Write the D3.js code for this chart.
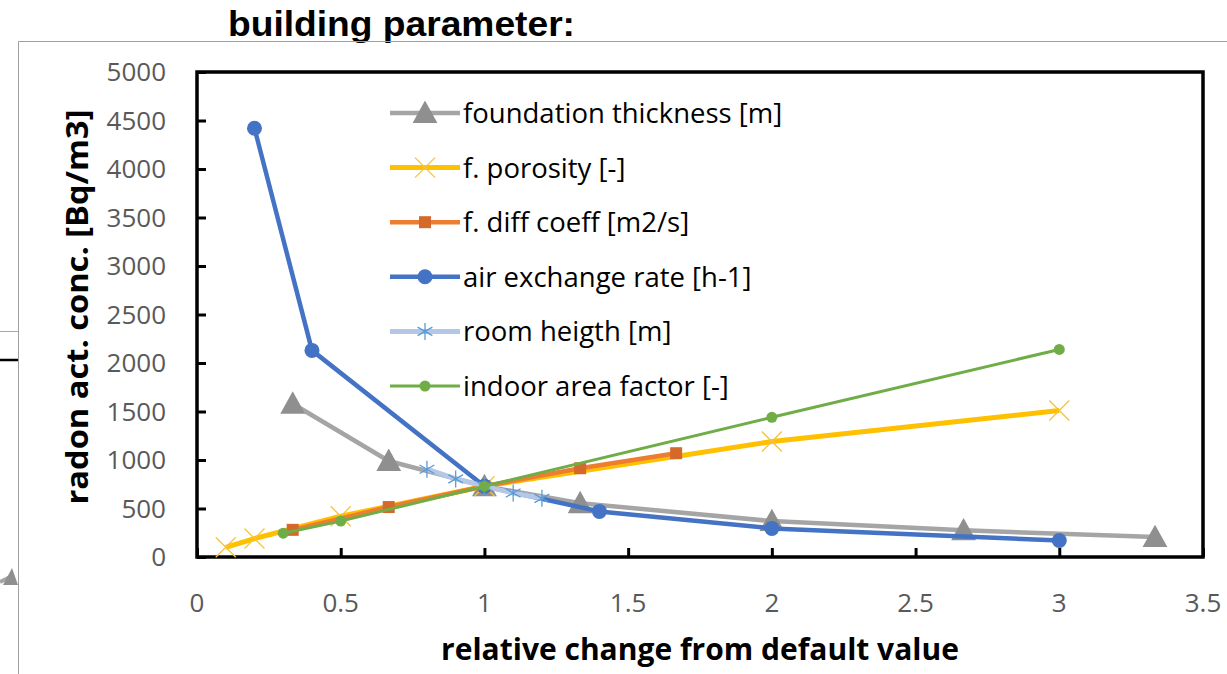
<!DOCTYPE html>
<html>
<head>
<meta charset="utf-8">
<script src="https://cdn.jsdelivr.net/npm/d3@7"></script>
<style>
    body { margin: 0; background: #fff; }
    svg { display: block; }
    .tick-label { font-family: "Open Sans", sans-serif; font-size: 26px; fill: #595959; }
    .legend-label { font-family: "Open Sans", sans-serif; font-size: 27.5px; fill: #000; }
    .axis-title { font-family: "Open Sans", sans-serif; font-weight: bold; font-size: 30px; fill: #000; }
</style>
</head>
<body>
<div id="chart"></div>
<script>
// x values (relative change) and radon concentration per building parameter
var foundationX = [0.333, 0.667, 1, 1.333, 2, 2.667, 3.333];
var foundationY = [1580, 990, 730, 555, 370, 275, 205];

var porosityX = [0.1, 0.2, 0.5, 1, 2, 3];
var porosityY = [100, 190, 420, 730, 1190, 1510];

var diffX = [0.333, 0.667, 1, 1.333, 1.667];
var diffY = [280, 515, 730, 915, 1070];

var airX = [0.2, 0.4, 1, 1.4, 2, 3];
var airY = [4420, 2130, 730, 470, 295, 170];

var roomX = [0.8, 0.9, 1, 1.1, 1.2];
var roomY = [905, 805, 730, 660, 605];

var areaX = [0.3, 0.5, 1, 2, 3];
var areaY = [245, 370, 730, 1440, 2140];

var seriesNames = ['foundation thickness [m]', 'f. porosity [-]', 'f. diff coeff [m2/s]',
    'air exchange rate [h-1]', 'room heigth [m]', 'indoor area factor [-]'];

var xTicks = [0, 0.5, 1, 1.5, 2, 2.5, 3, 3.5];
var yTicks = [0, 500, 1000, 1500, 2000, 2500, 3000, 3500, 4000, 4500, 5000];

var W = 1227, H = 674;
var plot = { left: 197, right: 1203, top: 72, bottom: 557 };

var svg = d3.select('#chart').append('svg')
    .attr('width', W)
    .attr('height', H);

// bits of neighbouring charts cut off at the left edge
svg.append('line').attr('x1', 0).attr('x2', 18).attr('y1', 331.5).attr('y2', 331.5)
    .attr('stroke', '#a6a6a6').attr('stroke-width', 1);
svg.append('line').attr('x1', 0).attr('x2', 18).attr('y1', 360).attr('y2', 360)
    .attr('stroke', '#000').attr('stroke-width', 2.5);
svg.append('line').attr('x1', 0).attr('x2', 10).attr('y1', 582).attr('y2', 577)
    .attr('stroke', '#a5a5a5').attr('stroke-width', 4);
svg.append('polygon').attr('points', '3,585 12,568 18,585').attr('fill', '#8f8f8f');

// title of the panel
svg.append('text')
    .attr('x', 228)
    .attr('y', 36)
    .attr('font-family', '"Liberation Sans", Arial, sans-serif')
    .attr('font-weight', 'bold')
    .attr('font-size', 35)
    .attr('textLength', 347)
    .attr('lengthAdjust', 'spacingAndGlyphs')
    .text('building parameter:');

// chart frame
svg.append('path')
    .attr('d', 'M18.5,' + H + ' V41.5 H' + W)
    .attr('fill', 'none')
    .attr('stroke', '#a0a0a0')
    .attr('stroke-width', 1);

var x = d3.scaleLinear().domain([0, 3.5]).range([plot.left, plot.right]);
var y = d3.scaleLinear().domain([0, 5000]).range([plot.bottom, plot.top]);

// axes, ticks pointing inward
var xAxis = svg.append('g')
    .attr('transform', 'translate(0,' + plot.bottom + ')')
    .call(d3.axisTop(x).tickValues(xTicks).tickSize(9).tickFormat(''));
var yAxis = svg.append('g')
    .attr('transform', 'translate(' + plot.left + ',0)')
    .call(d3.axisRight(y).tickValues(yTicks).tickSize(9).tickFormat(''));
[xAxis, yAxis].forEach(function(a) {
    a.select('.domain').remove();
    a.selectAll('.tick line').attr('stroke', '#000').attr('stroke-width', 3);
});

svg.append('rect')
    .attr('x', plot.left)
    .attr('y', plot.top)
    .attr('width', plot.right - plot.left)
    .attr('height', plot.bottom - plot.top)
    .attr('fill', 'none')
    .attr('stroke', '#000')
    .attr('stroke-width', 3.5);

// tick labels
svg.selectAll('.ylab').data(yTicks).enter().append('text')
    .attr('class', 'tick-label')
    .attr('x', 166)
    .attr('y', function(d) { return y(d) + 9; })
    .attr('text-anchor', 'end')
    .text(function(d) { return d; });

svg.selectAll('.xlab').data(xTicks).enter().append('text')
    .attr('class', 'tick-label')
    .attr('x', function(d) { return x(d); })
    .attr('y', 612)
    .attr('text-anchor', 'middle')
    .text(function(d) { return d; });

// axis titles
svg.append('text')
    .attr('class', 'axis-title')
    .attr('x', 700)
    .attr('y', 660)
    .attr('text-anchor', 'middle')
    .text('relative change from default value');

svg.append('text')
    .attr('class', 'axis-title')
    .attr('transform', 'translate(88,307) rotate(-90)')
    .attr('text-anchor', 'middle')
    .attr('textLength', 395)
    .attr('lengthAdjust', 'spacingAndGlyphs')
    .text('radon act. conc. [Bq/m3]');

// marker drawers
function triangle(g, size, color) {
    g.append('path')
        .attr('d', 'M0,' + (-size * 0.62) + ' L' + (size * 0.62) + ',' + (size * 0.5) + ' L' + (-size * 0.62) + ',' + (size * 0.5) + 'Z')
        .attr('fill', color);
}
function cross(g, size, color) {
    var s = size / 2;
    g.append('path')
        .attr('d', 'M' + -s + ',' + -s + 'L' + s + ',' + s + 'M' + -s + ',' + s + 'L' + s + ',' + -s)
        .attr('stroke', color).attr('stroke-width', 1.3).attr('fill', 'none');
}
function square(g, size, color) {
    g.append('rect').attr('x', -size / 2).attr('y', -size / 2)
        .attr('width', size).attr('height', size).attr('fill', color);
}
function circle(g, size, color) {
    g.append('circle').attr('r', size / 2).attr('fill', color);
}
function star(g, size, color) {
    var s = size / 2;
    var d = 'M0,' + -s + 'V' + s +
        'M' + (-s * 0.87) + ',' + (-s * 0.5) + 'L' + (s * 0.87) + ',' + (s * 0.5) +
        'M' + (-s * 0.87) + ',' + (s * 0.5) + 'L' + (s * 0.87) + ',' + (-s * 0.5);
    g.append('path').attr('d', d).attr('stroke', color).attr('stroke-width', 1.3).attr('fill', 'none');
}

var series = [
    { xs: foundationX, ys: foundationY, line: '#a5a5a5', width: 4.5, mark: triangle, mcolor: '#8f8f8f', msize: 20 },
    { xs: porosityX, ys: porosityY, line: '#ffc000', width: 5, mark: cross, mcolor: '#f5c242', msize: 20 },
    { xs: diffX, ys: diffY, line: '#ed7d31', width: 4.5, mark: square, mcolor: '#d4692a', msize: 12 },
    { xs: airX, ys: airY, line: '#4472c4', width: 4.5, mark: circle, mcolor: '#4472c4', msize: 15 },
    { xs: roomX, ys: roomY, line: '#b4c7e7', width: 5, mark: star, mcolor: '#5b9bd5', msize: 17 },
    { xs: areaX, ys: areaY, line: '#70ad47', width: 3, mark: circle, mcolor: '#70ad47', msize: 11 }
];

var lineGen = d3.line()
    .x(function(d) { return x(d[0]); })
    .y(function(d) { return y(d[1]); });

series.forEach(function(s) {
    var pts = d3.zip(s.xs, s.ys);
    var g = svg.append('g');
    g.append('path')
        .datum(pts)
        .attr('d', lineGen)
        .attr('fill', 'none')
        .attr('stroke', s.line)
        .attr('stroke-width', s.width)
        .attr('stroke-linejoin', 'round');
    g.selectAll('g.pt').data(pts).enter().append('g')
        .attr('class', 'pt')
        .attr('transform', function(d) { return 'translate(' + x(d[0]) + ',' + y(d[1]) + ')'; })
        .each(function() { s.mark(d3.select(this), s.msize, s.mcolor); });
});

// legend
var legend = svg.append('g').attr('transform', 'translate(390,113)');
series.forEach(function(s, i) {
    var row = legend.append('g').attr('transform', 'translate(0,' + (i * 54.6) + ')');
    row.append('line')
        .attr('x1', 0).attr('x2', 70).attr('y1', 0).attr('y2', 0)
        .attr('stroke', s.line).attr('stroke-width', s.width);
    var m = row.append('g').attr('transform', 'translate(35,0)');
    s.mark(m, s.msize, s.mcolor);
    row.append('text')
        .attr('class', 'legend-label')
        .attr('x', 73)
        .attr('y', 10)
        .text(seriesNames[i]);
});
</script>
</body>
</html>
